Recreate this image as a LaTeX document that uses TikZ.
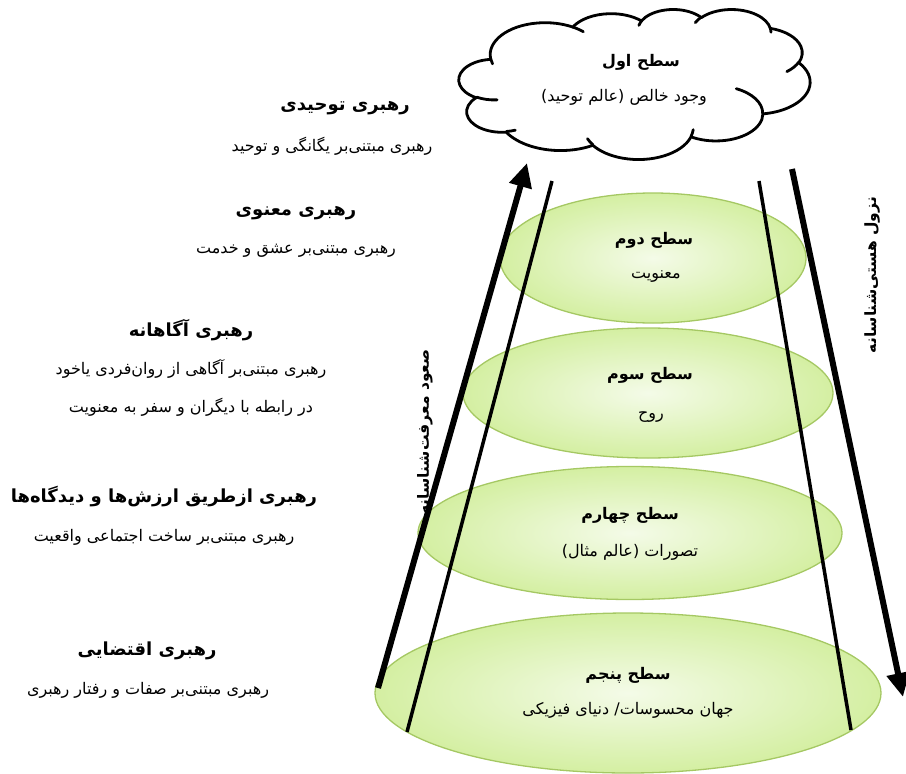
\documentclass[tikz,border=0pt]{standalone}
\usepackage{fontspec}
\usetikzlibrary{shapes.geometric,arrows.meta}
\TeXXeTstate=1
\newfontfamily\fa[Script=Arabic]{DejaVu Sans}
\newcommand{\rl}[1]{\beginR #1\endR}
\newcommand{\oarc}[4]{arc[x radius=#1, y radius=#2, start angle={atan2((#1)*sin(#3),(#2)*cos(#3))}, delta angle={atan2((#1)*sin((#3)+(#4)),(#2)*cos((#3)+(#4)))-atan2((#1)*sin(#3),(#2)*cos(#3))+360*round(((#4)-atan2((#1)*sin((#3)+(#4)),(#2)*cos((#3)+(#4)))+atan2((#1)*sin(#3),(#2)*cos(#3)))/360)}]}
\definecolor{lvlborder}{HTML}{A5C863}
\definecolor{lvlin}{HTML}{F4FBE8}
\definecolor{lvlout}{HTML}{D4EFA2}
\tikzset{
  lvl/.style={ellipse, draw=lvlborder, line width=1.3pt, inner color=lvlin, outer color=lvlout, inner sep=0},
  txt/.style={font=\fa\fontsize{16}{19}\selectfont, inner sep=0},
  ttl/.style={font=\fa\bfseries\fontsize{18}{21}\selectfont, inner sep=0},
  lttl/.style={font=\fa\bfseries\fontsize{16}{19}\selectfont, inner sep=0},
  side/.style={font=\fa\bfseries\fontsize{15.5}{18}\selectfont, inner sep=0, rotate=90},
  thinline/.style={line width=3.5pt},
  thickarrow/.style={line width=6pt, -{Triangle[length=24pt,width=22pt]}},
  cloudline/.style={line width=2.8pt, line join=round, line cap=round}
}
\begin{document}
\begin{tikzpicture}[x=1pt,y=-1pt]
\useasboundingbox (0,0) rectangle (906,774);
% levels
\node[lvl, minimum width=506pt, minimum height=160pt] (e5) at (628,693) {};
\node[lvl, minimum width=424pt, minimum height=133pt] (e4) at (630,533) {};
\node[lvl, minimum width=370pt, minimum height=130pt] (e3) at (648,393) {};
\node[lvl, minimum width=306pt, minimum height=130pt] (e2) at (653,258) {};
% lines
\coordinate (lt) at (552,181); \coordinate (lb) at (407,732);
\coordinate (rt) at (759,181); \coordinate (rb) at (851,730);
\coordinate (ua) at (378,688); \coordinate (ub) at (527,163);
\coordinate (da) at (792,169); \coordinate (db) at (903,697);
\draw[thinline] (lt) -- (lb);
\draw[thinline] (rt) -- (rb);
\draw[thickarrow] (ua) -- (ub);
\draw[thickarrow] (da) -- (db);
% cloud
\begin{scope}[shift={(459,9)}, x=0.8125pt, y=-0.3472pt]
\draw[cloudline, fill=white] (39.00,143.70)
  \oarc{67.53}{91.90}{-190.4875}{123.7805}
  \oarc{53.33}{72.67}{-144.10238}{89.94523}
  \oarc{43.65}{59.45}{-145.80792}{99.72302}
  \oarc{48.57}{65.95}{-130.98607}{117.24173}
  \oarc{53.33}{72.73}{-78.70888}{109.02692}
  \oarc{67.75}{92.20}{-46.26725}{130.269}
  \oarc{57.85}{78.67}{0.62502}{114.03333}
  \oarc{67.52}{92.15}{22.4516}{115.17255}
  \oarc{77.20}{105.43}{66.24263}{75.71102}
  \oarc{43.60}{59.18}{-274.94208}{146.73557}
  \oarc{43.45}{59.45}{-246.8285}{152.51885}
  -- cycle;
\draw[cloudline] (46.93,261.77) \oarc{43.45}{59.45}{86.742}{26.4295}
  (69.28,348.99) \oarc{43.60}{59.18}{73.61047}{11.44747}
  (164.78,390.90) \oarc{67.52}{92.15}{137.62415}{14.0811}
  (288.27,347.51) \oarc{67.52}{92.15}{6.45327}{15.99835}
  (341.29,229.54) \oarc{57.85}{78.67}{-70.29235}{70.91737}
  (417.98,153.54) \oarc{53.33}{72.73}{30.31803}{27.7515}
  (383.24,54.26) \oarc{48.57}{65.95}{-13.74433}{14.8589}
  (290.78,39.52) \oarc{48.57}{65.95}{-149.18145}{18.19537}
  (221.41,47.20) \oarc{43.65}{59.45}{-163.49427}{17.68635}
  (140.00,51.92) \oarc{67.53}{91.90}{-66.70695}{12.31935}
  (41.27,157.89) \oarc{67.53}{91.90}{157.65435}{11.85817};
\coordinate (cloud) at (216,216);
\end{scope}
\node[lttl] (c1) at (641,62) {\rl{سطح اول}};
\node[txt] (c2) at (624,97) {\rl{وجود خالص (عالم توحید)}};
% level texts
\node[lttl] (s2) at (654,240) {\rl{سطح دوم}};
\node[txt] (m2) at (656,277) {\rl{معنویت}};
\node[lttl] (s3) at (650,375) {\rl{سطح سوم}};
\node[txt] (m3) at (651,417) {\rl{روح}};
\node[lttl] (s4) at (630,515) {\rl{سطح چهارم}};
\node[txt] (m4) at (630,552) {\rl{تصورات (عالم مثال)}};
\node[lttl] (s5) at (628,675) {\rl{سطح پنجم}};
\node[txt] (m5) at (628,710) {\rl{جهان محسوسات/ دنیای فیزیکی}};
% side labels
\node[side] (up) at (425,432) {\rl{صعود معرفت^^^^200cشناسانه}};
\node[side] (down) at (872,275) {\rl{نزول هستی^^^^200cشناسانه}};
% left texts
\node[ttl] (a1) at (345,108) {\rl{رهبری توحیدی}};
\node[txt] (b1) at (332,146) {\rl{رهبری مبتنی^^^^200cبر یگانگی و توحید}};
\node[ttl] (a2) at (296,213) {\rl{رهبری معنوی}};
\node[txt] (b2) at (296,251) {\rl{رهبری مبتنی^^^^200cبر عشق و خدمت}};
\node[ttl] (a3) at (191,330) {\rl{رهبری آگاهانه}};
\node[txt] (b3) at (191,369) {\rl{رهبری مبتنی^^^^200cبر آگاهی از روان^^^^200cفردی یاخود}};
\node[txt] (b3b) at (191,407) {\rl{در رابطه با دیگران و سفر به معنویت}};
\node[ttl] (a4) at (164,497) {\rl{رهبری ازطریق ارزش^^^^200cها و دیدگاه^^^^200cها}};
\node[txt] (b4) at (164,537) {\rl{رهبری مبتنی^^^^200cبر ساخت اجتماعی واقعیت}};
\node[ttl] (a5) at (147,651) {\rl{رهبری اقتضایی}};
\node[txt] (b5) at (148,690) {\rl{رهبری مبتنی^^^^200cبر صفات و رفتار رهبری}};
\end{tikzpicture}
\end{document}
